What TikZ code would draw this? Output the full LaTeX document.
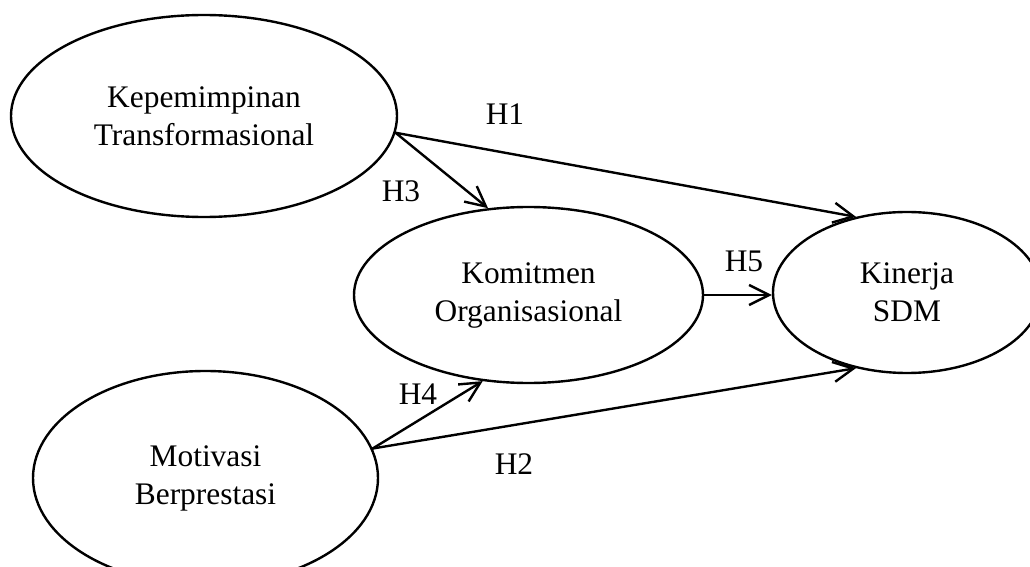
\documentclass[tikz,border=0pt]{standalone}
\usepackage{fontspec}
\setmainfont{Liberation Serif}
\usetikzlibrary{arrows.meta,shapes.geometric}
\begin{document}
\begin{tikzpicture}[x=0.5pt,y=-0.5pt,
  construct/.style={draw, ellipse, line width=1.2pt, inner sep=0pt, align=center,
    font=\fontsize{15.7}{19}\selectfont},
  link/.style={line width=1.2pt, line cap=round,
    -{Straight Barb[length=10pt,width=10pt,line width=1.2pt]}},
  hlabel/.style={font=\fontsize{15.7}{19}\selectfont, inner sep=0pt}]
\clip (0,0) rectangle (1030,567);

% latent constructs
\node[construct, minimum width=193pt, minimum height=101pt] (kt) at (204,116) {Kepemimpinan\\Transformasional};
\node[construct, minimum width=174.5pt, minimum height=88pt] (ko) at (528.5,295) {Komitmen\\Organisasional};
\node[construct, minimum width=134pt, minimum height=80.5pt] (ks) at (907,292.5) {Kinerja\\SDM};
\node[construct, minimum width=172.5pt, minimum height=107pt] (mb) at (205.5,478) {Motivasi\\Berprestasi};

% hypothesised paths
\draw[link] (kt.-5) -- (ks.124);
\draw[link] (kt.-5) -- (ko.115.5);
\draw[link] (ko.east) -- (ko.east -| ks.west);
\draw[link] (mb.10) -- (ko.242);
\draw[link] (mb.10) -- (ks.236);

% hypothesis labels
\node[hlabel] (h1) at (505,114) {H1};
\node[hlabel] (h3) at (401,191) {H3};
\node[hlabel] (h5) at (744,261) {H5};
\node[hlabel] (h4) at (418,394) {H4};
\node[hlabel] (h2) at (514,464) {H2};
\end{tikzpicture}
\end{document}
